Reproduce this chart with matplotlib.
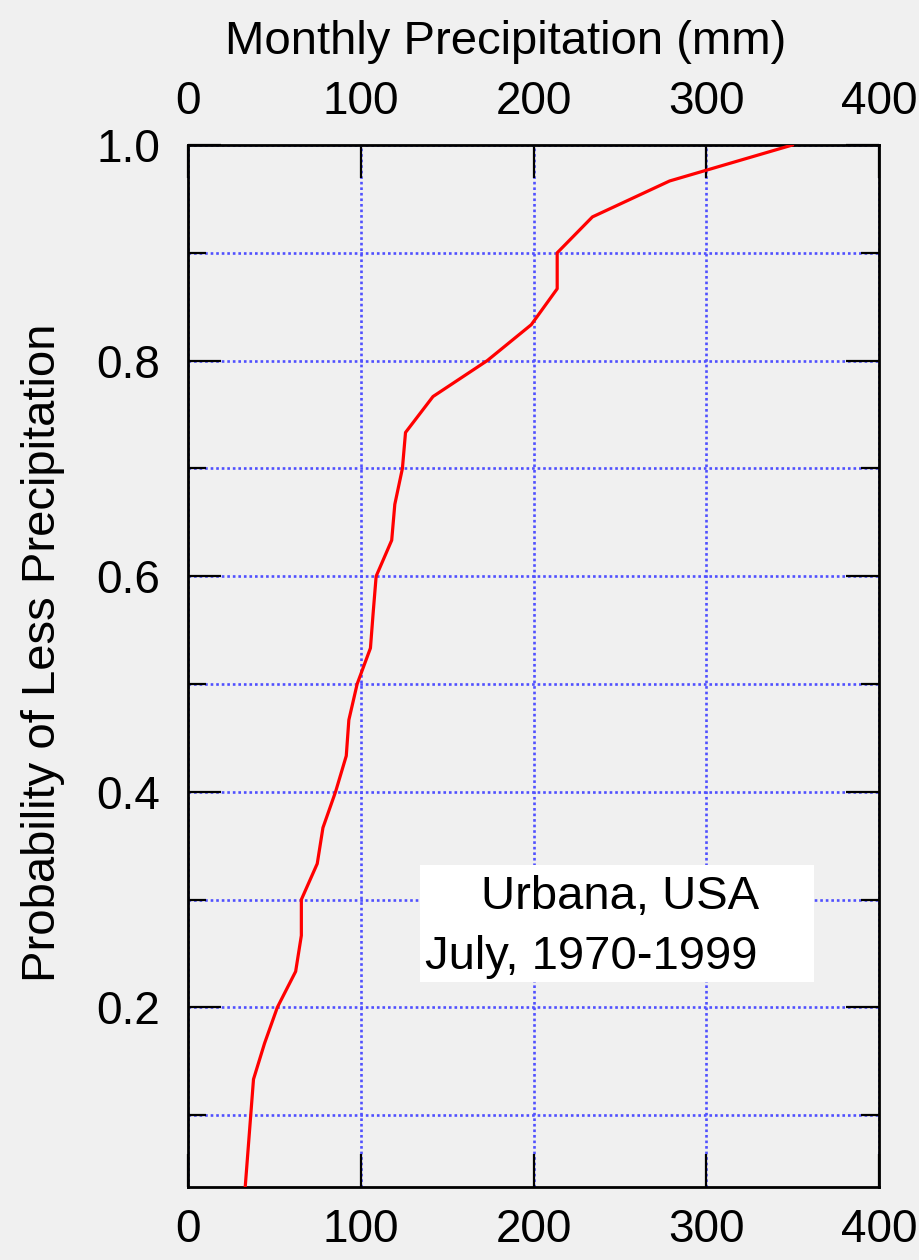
import numpy as np
import matplotlib
matplotlib.use("Agg")
import matplotlib.pyplot as plt
from matplotlib.patches import Rectangle
from matplotlib.ticker import MultipleLocator

# July precipitation, sorted (mm), and cumulative probability i/30
precip_mm = [33.1, 34.7, 36.3, 37.9, 44.3, 51.7, 62.3, 65.6, 65.6, 74.8,
             78.1, 85.4, 91.6, 93.1, 97.9, 105.6, 107.2, 108.9, 117.9, 119.7,
             124.1, 125.9, 141.8, 173.2, 198.7, 213.7, 213.7, 234.1, 278.8, 349.8]
prob_less = [i / 30 for i in range(1, 31)]

x_ticks = [0, 100, 200, 300, 400]
y_ticks = [0.2, 0.4, 0.6, 0.8, 1.0]
y_tick_labels = ["0.2", "0.4", "0.6", "0.8", "1.0"]

plt.rcParams["font.family"] = ["Liberation Sans", "DejaVu Sans"]

bg = "#f0f0f0"
grid_col = "#5050ff"

fig = plt.figure(figsize=(9.19, 12.6), dpi=100, facecolor=bg)
ax = fig.add_axes([0.2046, 0.0579, 0.7519, 0.8270])
ax.set_facecolor(bg)

ax.plot(precip_mm, prob_less, color="red", lw=2.3, zorder=3)

ax.set_xlim(0, 400)
ax.set_ylim(1 / 30, 1.0)
ax.set_xticks(x_ticks)
ax.set_yticks(y_ticks)
ax.set_yticklabels(y_tick_labels)
ax.yaxis.set_minor_locator(MultipleLocator(0.1))

ax.grid(True, which="both", color=grid_col, ls=(0, (1, 1.1)), lw=1.9, zorder=1)
ax.tick_params(which="major", direction="in", length=24, width=1.6,
               top=True, right=True, labeltop=True, labelsize=33, color="black")
ax.tick_params(axis="y", which="major", pad=20)
ax.tick_params(axis="x", which="major", pad=15)
ax.tick_params(which="minor", direction="in", length=13, width=1.6, right=True)
for s in ax.spines.values():
    s.set_linewidth(2)

ax.set_ylabel("Probability of Less Precipitation", fontsize=34)
ax.yaxis.set_label_coords(-0.178, 0.513)
ax.xaxis.set_label_position("top")
ax.set_xlabel("Monthly Precipitation (mm)", fontsize=34)
ax.xaxis.set_label_coords(0.460, 1.087)

ax.add_patch(Rectangle((134.4, 0.224), 228.0, 0.1084, facecolor="white",
                       edgecolor="none", zorder=2))
ax.text(249.9, 0.302, "Urbana, USA", fontsize=34, ha="center", va="center", zorder=4)
ax.text(233.7, 0.247, "July, 1970-1999", fontsize=34, ha="center", va="center", zorder=4)

fig.savefig("out.png", dpi=100, facecolor=bg)
